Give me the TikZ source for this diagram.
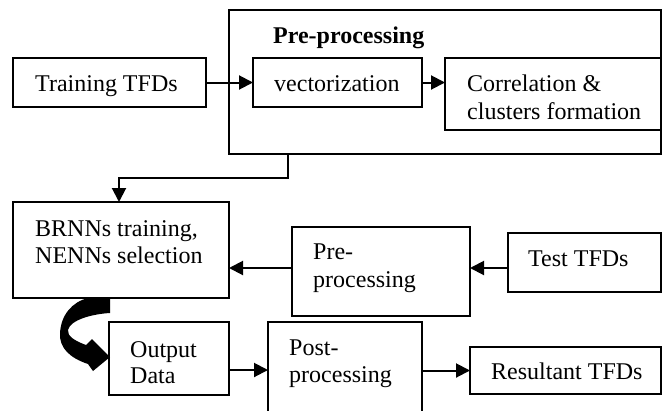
\documentclass[tikz,border=0pt]{standalone}
\usepackage{fontspec}
\setmainfont{Liberation Serif}
\usetikzlibrary{arrows.meta}
\begin{document}
\begin{tikzpicture}[x=1pt,y=-1pt,
  box/.style={draw, line width=2pt, rectangle, inner sep=0pt, outer sep=0pt, anchor=north west},
  txt/.style={anchor=base west, inner sep=0pt, font=\fontsize{24}{28}\selectfont},
  arr/.style={line width=2pt, -{Triangle[length=14pt,width=14pt]}}]
\useasboundingbox (0,0) rectangle (663,410);
% boxes
\node[box, minimum width=193pt, minimum height=49pt]  (train)  at (13,58) {};
\node[box, minimum width=432pt, minimum height=144pt] (prebig) at (229,10) {};
\node[box, minimum width=169pt, minimum height=49pt]  (vec)    at (253,58) {};
\node[box, minimum width=216pt, minimum height=72pt]  (corr)   at (445,58) {};
\node[box, minimum width=216pt, minimum height=96pt]  (brnn)   at (13,202) {};
\node[box, minimum width=178pt, minimum height=89pt]  (pre)    at (292,227) {};
\node[box, minimum width=153pt, minimum height=59pt]  (test)   at (508,233) {};
\node[box, minimum width=120pt, minimum height=73pt]  (out)    at (109,322) {};
\node[box, minimum width=154pt, minimum height=100pt] (post)   at (268,322) {};
\node[box, minimum width=191pt, minimum height=47pt]  (result) at (470,347) {};
% texts
\node[txt] (ttrain) at (35,91) {Training TFDs};
\node[txt, font=\fontsize{24}{28}\selectfont\bfseries] (ttitle) at (273,43) {Pre-processing};
\node[txt] (tvec) at (274,91) {vectorization};
\node[txt] (tcorra) at (467,91) {Correlation \&};
\node[txt] (tcorrb) at (467,119) {clusters formation};
\node[txt] (tbrnna) at (35,236) {BRNNs training,};
\node[txt] (tbrnnb) at (35,263) {NENNs selection};
\node[txt] (tprea) at (313,259) {Pre-};
\node[txt] (tpreb) at (313,287) {processing};
\node[txt] (ttest) at (528,266) {Test TFDs};
\node[txt] (touta) at (130,357) {Output};
\node[txt] (toutb) at (130,383) {Data};
\node[txt] (tposta) at (289,355) {Post-};
\node[txt] (tpostb) at (289,382) {processing};
\node[txt] (tres) at (491,379) {Resultant TFDs};
% connectors
\draw[arr] (train.east) -- (vec.west);
\draw[arr] (vec.east) -- (vec.east -| corr.west);
\draw[arr] ([xshift=59pt]prebig.south west) -- ++(0,24) -| ([xshift=106pt]brnn.north west);
\draw[arr] (test.west |- 0,268) -- (pre.east |- 0,268);
\draw[arr] (pre.west |- 0,268) -- (brnn.east |- 0,268);
\draw[arr] (out.east |- 0,370) -- (post.west |- 0,370);
\draw[arr] (post.east |- result.west) -- (result.west);
% thick curved arrow
\fill (88,298) -- (110,298) -- (110,313)
  .. controls (92,314) and (70,320) .. (68,330)
  .. controls (67,336) and (75,341) .. (86,345)
  -- (92,339) -- (110,357) -- (93,371) -- (88,364)
  .. controls (70,358) and (59,348) .. (60,333)
  .. controls (61,315) and (72,302) .. (88,298) -- cycle;
\end{tikzpicture}
\end{document}
